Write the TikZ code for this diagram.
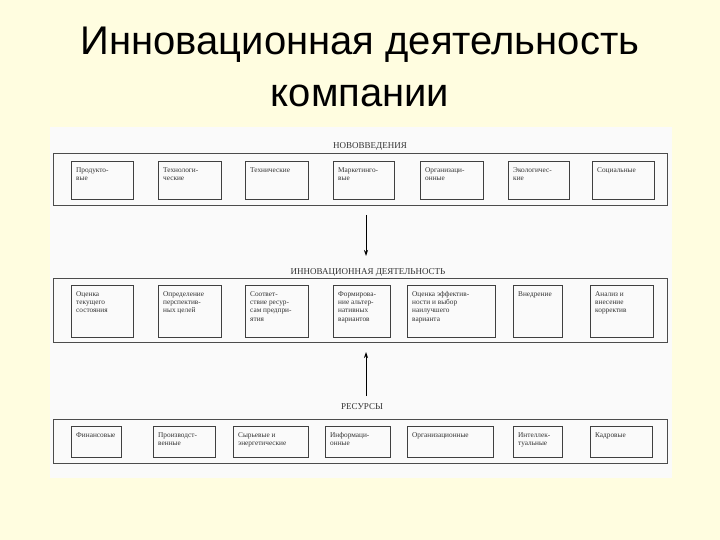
\documentclass[tikz,border=0pt]{standalone}
\usepackage{fontspec}
\usetikzlibrary{arrows.meta}
\setmainfont{Liberation Serif}
\newfontfamily\titlefont{Liberation Sans}
\begin{document}
\begin{tikzpicture}[x=1pt,y=-1pt,
 bx/.style={draw=black!75,line width=0.8pt},
 outer/.style={draw=black!70,line width=0.9pt},
 txt/.style={anchor=north west,font=\fontsize{7.3}{8.3}\selectfont,align=left,inner sep=0pt,text=black!80},
 lbl/.style={font=\fontsize{9}{10}\selectfont,text=black!80,fill=black!2,inner sep=2pt},
 arr/.style={-{Stealth[length=6pt,width=4pt]},line width=0.8pt}]
\fill[yellow!12] (0,0) rectangle (720,540);
\useasboundingbox (0,0) rectangle (720,540);
\fill[black!2] (50,127) rectangle (672,478);
\node[font=\titlefont\fontsize{40}{44}\selectfont] (t1) at (360,45) {Инновационная деятельность};
\node[font=\titlefont\fontsize{40}{44}\selectfont] (t2) at (360,96) {компании};
% row 1
\draw[outer] (53,153) rectangle (667,205);
\node[lbl] (l1) at (370,146) {НОВОВВЕДЕНИЯ};
\foreach \a/\b/\t [count=\i] in {71/133/{Продукто-\\вые},158/221/{Технологи-\\ческие},245/308/{Технические},333/394/{Маркетинго-\\вые},420/483/{Организаци-\\онные},508/569/{Экологичес-\\кие},592/654/{Социальные}}{
 \draw[bx] (\a,161) rectangle (\b,199);
 \node[txt] (r1n\i) at (\a+5,165) {\rule{0pt}{7pt}\t};
}
% row 2
\draw[outer] (53,278) rectangle (667,342);
\node[lbl] (l2) at (368,272) {ИННОВАЦИОННАЯ ДЕЯТЕЛЬНОСТЬ};
\foreach \a/\b/\t [count=\i] in {71/133/{Оценка\\текущего\\состояния},158/221/{Определение\\перспектив-\\ных целей},245/308/{Соответ-\\ствие ресур-\\сам предпри-\\ятия},333/390/{Формирова-\\ние альтер-\\нативных\\вариантов},407/495/{Оценка эффектив-\\ности и выбор\\наилучшего\\варианта},513/562/{Внедрение},590/653/{Анализ и\\внесение\\корректив}}{
 \draw[bx] (\a,285) rectangle (\b,337);
 \node[txt] (r2n\i) at (\a+5,289) {\rule{0pt}{7pt}\t};
}
% row 3
\draw[outer] (53,419) rectangle (667,463);
\node[lbl] (l3) at (362,407) {РЕСУРСЫ};
\foreach \a/\b/\t [count=\i] in {71/121/{Финансовые},153/215/{Производст-\\венные},233/308/{Сырьевые и\\энергетические},325/390/{Информаци-\\онные},407/493/{Организационные},513/562/{Интеллек-\\туальные},590/652/{Кадровые}}{
 \draw[bx] (\a,426) rectangle (\b,457);
 \node[txt] (r3n\i) at (\a+5,430) {\rule{0pt}{7pt}\t};
}
\coordinate (a1) at (366,215);
\coordinate (a2) at (366,256);
\coordinate (b1) at (366,396);
\coordinate (b2) at (366,352);
\draw[arr] (a1) -- (a2);
\draw[arr] (b1) -- (b2);
\end{tikzpicture}
\end{document}
